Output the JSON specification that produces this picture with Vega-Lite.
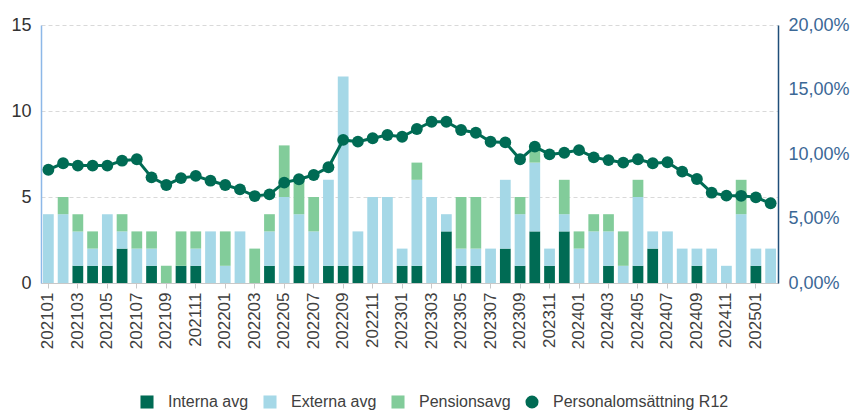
{
  "$schema": "https://vega.github.io/schema/vega-lite/v6.json",
  "width": 737,
  "height": 258,
  "autosize": "none",
  "padding": {"left": 41, "top": 25, "right": 78, "bottom": 129},
  "config": {
    "view": {"stroke": null},
    "font": "Liberation Sans",
    "axis": {"labelFont": "Liberation Sans", "titleFont": "Liberation Sans"},
    "legend": {"labelFont": "Liberation Sans"}
  },
  "data": {
    "values": [
      {"m": "202101", "Interna avg": 0, "Externa avg": 4, "Pensionsavg": 0, "R12": 8.78},
      {"m": "202102", "Interna avg": 0, "Externa avg": 4, "Pensionsavg": 1, "R12": 9.28},
      {"m": "202103", "Interna avg": 1, "Externa avg": 2, "Pensionsavg": 1, "R12": 9.1},
      {"m": "202104", "Interna avg": 1, "Externa avg": 1, "Pensionsavg": 1, "R12": 9.1},
      {"m": "202105", "Interna avg": 1, "Externa avg": 3, "Pensionsavg": 0, "R12": 9.1},
      {"m": "202106", "Interna avg": 2, "Externa avg": 1, "Pensionsavg": 1, "R12": 9.48},
      {"m": "202107", "Interna avg": 0, "Externa avg": 2, "Pensionsavg": 1, "R12": 9.59},
      {"m": "202108", "Interna avg": 1, "Externa avg": 1, "Pensionsavg": 1, "R12": 8.19},
      {"m": "202109", "Interna avg": 0, "Externa avg": 0, "Pensionsavg": 1, "R12": 7.6},
      {"m": "202110", "Interna avg": 1, "Externa avg": 0, "Pensionsavg": 2, "R12": 8.13},
      {"m": "202111", "Interna avg": 1, "Externa avg": 1, "Pensionsavg": 1, "R12": 8.3},
      {"m": "202112", "Interna avg": 0, "Externa avg": 3, "Pensionsavg": 0, "R12": 7.93},
      {"m": "202201", "Interna avg": 0, "Externa avg": 1, "Pensionsavg": 2, "R12": 7.6},
      {"m": "202202", "Interna avg": 0, "Externa avg": 3, "Pensionsavg": 0, "R12": 7.26},
      {"m": "202203", "Interna avg": 0, "Externa avg": 0, "Pensionsavg": 2, "R12": 6.74},
      {"m": "202204", "Interna avg": 1, "Externa avg": 2, "Pensionsavg": 1, "R12": 6.87},
      {"m": "202205", "Interna avg": 0, "Externa avg": 5, "Pensionsavg": 3, "R12": 7.78},
      {"m": "202206", "Interna avg": 1, "Externa avg": 3, "Pensionsavg": 2, "R12": 8.04},
      {"m": "202207", "Interna avg": 0, "Externa avg": 3, "Pensionsavg": 2, "R12": 8.37},
      {"m": "202208", "Interna avg": 1, "Externa avg": 5, "Pensionsavg": 0, "R12": 8.97},
      {"m": "202209", "Interna avg": 1, "Externa avg": 11, "Pensionsavg": 0, "R12": 11.09},
      {"m": "202210", "Interna avg": 1, "Externa avg": 2, "Pensionsavg": 0, "R12": 10.96},
      {"m": "202211", "Interna avg": 0, "Externa avg": 5, "Pensionsavg": 0, "R12": 11.22},
      {"m": "202212", "Interna avg": 0, "Externa avg": 5, "Pensionsavg": 0, "R12": 11.47},
      {"m": "202301", "Interna avg": 1, "Externa avg": 1, "Pensionsavg": 0, "R12": 11.34},
      {"m": "202302", "Interna avg": 1, "Externa avg": 5, "Pensionsavg": 1, "R12": 11.94},
      {"m": "202303", "Interna avg": 0, "Externa avg": 5, "Pensionsavg": 0, "R12": 12.5},
      {"m": "202304", "Interna avg": 3, "Externa avg": 1, "Pensionsavg": 0, "R12": 12.5},
      {"m": "202305", "Interna avg": 1, "Externa avg": 1, "Pensionsavg": 3, "R12": 11.86},
      {"m": "202306", "Interna avg": 1, "Externa avg": 1, "Pensionsavg": 3, "R12": 11.65},
      {"m": "202307", "Interna avg": 0, "Externa avg": 2, "Pensionsavg": 0, "R12": 10.95},
      {"m": "202308", "Interna avg": 2, "Externa avg": 4, "Pensionsavg": 0, "R12": 10.9},
      {"m": "202309", "Interna avg": 1, "Externa avg": 3, "Pensionsavg": 1, "R12": 9.59},
      {"m": "202310", "Interna avg": 3, "Externa avg": 4, "Pensionsavg": 1, "R12": 10.57},
      {"m": "202311", "Interna avg": 1, "Externa avg": 1, "Pensionsavg": 0, "R12": 9.97},
      {"m": "202312", "Interna avg": 3, "Externa avg": 1, "Pensionsavg": 2, "R12": 10.1},
      {"m": "202401", "Interna avg": 0, "Externa avg": 2, "Pensionsavg": 1, "R12": 10.3},
      {"m": "202402", "Interna avg": 0, "Externa avg": 3, "Pensionsavg": 1, "R12": 9.74},
      {"m": "202403", "Interna avg": 1, "Externa avg": 2, "Pensionsavg": 1, "R12": 9.53},
      {"m": "202404", "Interna avg": 0, "Externa avg": 1, "Pensionsavg": 2, "R12": 9.33},
      {"m": "202405", "Interna avg": 1, "Externa avg": 4, "Pensionsavg": 1, "R12": 9.59},
      {"m": "202406", "Interna avg": 2, "Externa avg": 1, "Pensionsavg": 0, "R12": 9.28},
      {"m": "202407", "Interna avg": 0, "Externa avg": 3, "Pensionsavg": 0, "R12": 9.36},
      {"m": "202408", "Interna avg": 0, "Externa avg": 2, "Pensionsavg": 0, "R12": 8.63},
      {"m": "202409", "Interna avg": 1, "Externa avg": 1, "Pensionsavg": 0, "R12": 8.06},
      {"m": "202410", "Interna avg": 0, "Externa avg": 2, "Pensionsavg": 0, "R12": 7.0},
      {"m": "202411", "Interna avg": 0, "Externa avg": 1, "Pensionsavg": 0, "R12": 6.77},
      {"m": "202412", "Interna avg": 0, "Externa avg": 4, "Pensionsavg": 2, "R12": 6.76},
      {"m": "202501", "Interna avg": 1, "Externa avg": 1, "Pensionsavg": 0, "R12": 6.64},
      {"m": "202502", "Interna avg": 0, "Externa avg": 2, "Pensionsavg": 0, "R12": 6.18}
    ]
  },
  "encoding": {
    "x": {
      "field": "m",
      "type": "ordinal",
      "title": null,
      "scale": {"paddingInner": 0.27, "paddingOuter": 0.135},
      "axis": {
        "values": ["202101","202103","202105","202107","202109","202111","202201","202203","202205","202207","202209","202211","202301","202303","202305","202307","202309","202311","202401","202403","202405","202407","202409","202411","202501"],
        "labelAngle": -90,
        "labelFontSize": 17,
        "labelColor": "#404040",
        "labelPadding": 4,
        "domainColor": "#c8c8c8",
        "tickColor": "#c8c8c8",
        "tickSize": 5,
        "labelBaseline": "middle"
      }
    }
  },
  "layer": [
    {
      "transform": [
        {"fold": ["Interna avg", "Externa avg", "Pensionsavg"], "as": ["typ", "n"]},
        {"lookup": "typ", "from": {"data": {"values": [{"typ": "Interna avg", "o": 1}, {"typ": "Externa avg", "o": 2}, {"typ": "Pensionsavg", "o": 3}]}, "key": "typ", "fields": ["o"]}}
      ],
      "mark": {"type": "bar"},
      "encoding": {
        "y": {
          "field": "n",
          "type": "quantitative",
          "title": null,
          "scale": {"domain": [0, 15]},
          "axis": {
            "values": [0, 5, 10, 15],
            "labelFontSize": 18,
            "labelColor": "#333333",
            "labelPadding": 10,
            "ticks": false,
            "domainColor": "#8db8e8",
            "domainWidth": 1.5,
            "grid": true,
            "gridDash": [4, 3],
            "gridColor": "#d9d9d9"
          }
        },
        "color": {
          "field": "typ",
          "type": "nominal",
          "scale": {
            "domain": ["Interna avg", "Externa avg", "Pensionsavg", "Personalomsättning R12"],
            "range": ["#006b54", "#a5d8e7", "#82cc9a", "#006b54"]
          },
          "legend": {
            "title": null,
            "orient": "none",
            "direction": "horizontal",
            "legendX": 98,
            "legendY": 369,
            "labelFontSize": 16,
            "labelLimit": 400,
            "labelColor": "#404040",
            "symbolSize": 170,
            "labelOffset": 13,
            "columnPadding": 13,
            "encode": {"symbols": {"update": {"shape": {"signal": "datum.value === 'Personalomsättning R12' ? 'circle' : 'square'"}, "strokeWidth": {"value": 0}}}}
          }
        },
        "order": {"field": "o", "type": "quantitative"}
      }
    },
    {
      "mark": {"type": "line", "strokeWidth": 3, "point": {"filled": true, "size": 140}},
      "encoding": {
        "y": {
          "field": "R12",
          "type": "quantitative",
          "title": null,
          "scale": {"domain": [0, 20]},
          "axis": {
            "orient": "right",
            "values": [0, 5, 10, 15, 20],
            "labelExpr": "replace(format(datum.value, '.2f'), '.', ',') + '%'",
            "labelFontSize": 18,
            "labelColor": "#3b6896",
            "labelPadding": 10,
            "ticks": false,
            "domainColor": "#1f4e79",
            "domainWidth": 1.5,
            "grid": false
          }
        },
        "color": {"datum": "Personalomsättning R12", "type": "nominal"}
      }
    }
  ],
  "resolve": {"scale": {"y": "independent"}}
}
